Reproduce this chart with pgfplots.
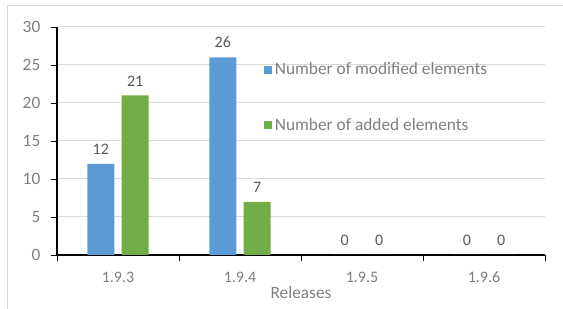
\documentclass[border=0pt]{standalone}
\usepackage{pgfplots}
\pgfplotsset{compat=1.18}
\usepackage{fontspec}
\setmainfont{Carlito}
\definecolor{bblue}{HTML}{5B9BD5}
\definecolor{bgreen}{HTML}{70AD47}
\definecolor{gridc}{HTML}{D9D9D9}
\definecolor{txt}{HTML}{7F7F7F}
\definecolor{lbl}{HTML}{595959}
\begin{document}
\begin{tikzpicture}
\useasboundingbox (0,0) rectangle (422.25pt,231.75pt);
\draw[gridc, line width=0.75pt] (5.25pt,0) -- (5.25pt,227.25pt) -- (422.25pt,227.25pt);
\begin{axis}[
  at={(42.75pt,40.5pt)}, anchor=south west,
  scale only axis, width=366pt, height=171pt,
  xmin=-0.5, xmax=3.5, ymin=0, ymax=30,
  axis x line*=bottom, axis y line*=left,
  axis line style={-, black, line width=1.3pt},
  ybar, bar width=20.25pt,
  xtick={-0.5,0.5,1.5,2.5,3.5},
  x tick label as interval,
  xticklabels={1.9.3,1.9.4,1.9.5,1.9.6},
  ytick={0,5,...,30},
  ymajorgrids, grid style={gridc, line width=0.75pt},
  tick align=outside, major tick length=4.5pt,
  tick style={black, line width=0.6pt},
  yticklabel style={font=\fontsize{13}{15}\selectfont, text=txt, xshift=-4.5pt},
  xticklabel style={font=\fontsize{12}{14}\selectfont, text=txt, yshift=-4.5pt},
  /pgf/number format/assume math mode=true,
  xlabel={Releases},
  xlabel style={font=\fontsize{13}{15}\selectfont, text=txt, yshift=4pt},
  legend style={at={(0.424,0.856)}, anchor=north west, draw=none, fill=none,
    inner sep=0pt, row sep=27pt, font=\fontsize{13}{15}\selectfont, text=txt},
  legend cell align=left,
  legend image code/.code={\fill[#1] (0pt,-3pt) rectangle (6pt,3pt);},
  nodes near coords,
  every node near coord/.append style={font=\fontsize{12}{14}\selectfont, text=lbl, yshift=3.5pt},
]
\addplot[fill=bblue, draw=none, bar shift=-12.9pt] coordinates {(0,12) (1,26) (2,0) (3,0)};
\addplot[fill=bgreen, draw=none, bar shift=12.9pt] coordinates {(0,21) (1,7) (2,0) (3,0)};
\legend{Number of modified elements, Number of added elements}
\end{axis}
\end{tikzpicture}
\end{document}
